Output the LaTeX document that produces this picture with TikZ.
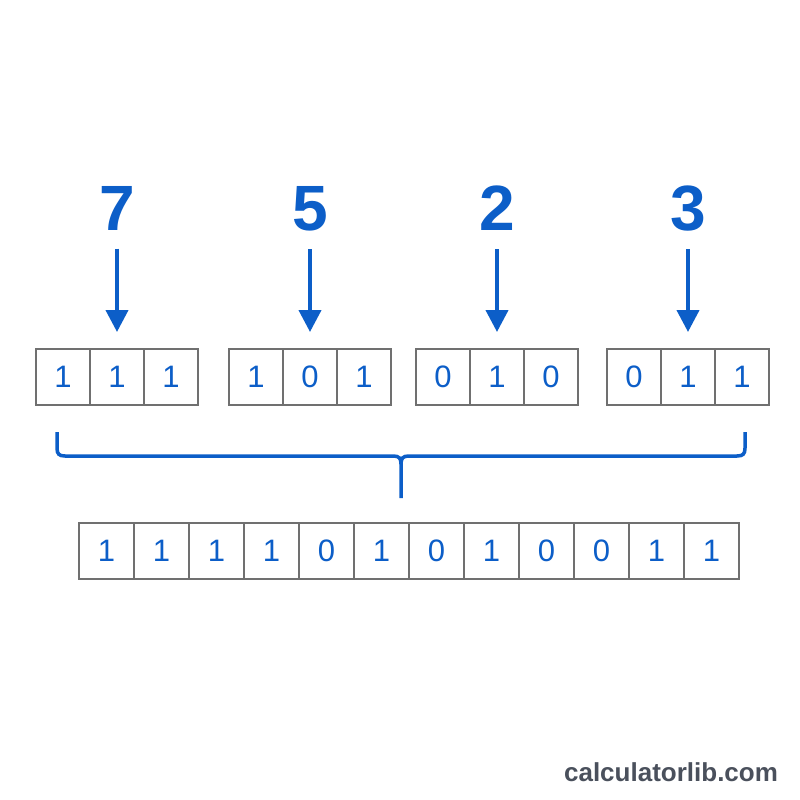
\documentclass[tikz,border=0pt]{standalone}
\usepackage{fontspec}
\setmainfont{Liberation Sans}
\usetikzlibrary{arrows.meta}
\definecolor{bitblue}{RGB}{12,94,200}
\definecolor{boxgray}{RGB}{112,112,112}
\definecolor{markgray}{RGB}{74,80,92}

\begin{document}
\begin{tikzpicture}[x=1pt,y=-1pt,
  cell/.style={draw=boxgray,line width=2pt,fill=white,minimum width=54pt,minimum height=56pt,inner sep=0pt,outer sep=0pt,text=bitblue,font=\fontsize{31}{31}\selectfont},
  num/.style={inner sep=0pt,text=bitblue,font=\fontsize{64}{64}\selectfont\bfseries},
  arr/.style={-{Triangle[length=22pt,width=22pt]},line width=4pt,draw=bitblue,shorten <=18pt,shorten >=17pt},
  brace/.style={draw=bitblue,line width=3.5pt}]
\useasboundingbox[fill=white] (0,0) rectangle (800,800);

% the four numbers
\node[num] (n7) at (117,208.5) {7};
\node[num] (n5) at (310,208.5) {5};
\node[num] (n2) at (497,208.5) {2};
\node[num] (n3) at (688,208.5) {3};

% three bits for each number
\foreach \g/\x/\bits in {1/36/{1,1,1},2/229/{1,0,1},3/416/{0,1,0},4/607/{0,1,1}}
  \foreach \b [count=\i] in \bits
    \node[cell] (g\g c\i) at (\x+27+54*\i-54,377) {\b};

\draw[arr] (n7.south) -- (g1c2.north);
\draw[arr] (n5.south) -- (g2c2.north);
\draw[arr] (n2.south) -- (g3c2.north);
\draw[arr] (n3.south) -- (g4c2.north);

% brace joining the groups
\coordinate (bl) at (57,432);
\coordinate (br) at (745,432);
\coordinate (bm) at (401,498);
\draw[brace] (bl) -- (57,448) .. controls (57,454) and (59,456) .. (65,456) -- (393,456)
  .. controls (399,456) and (401,458) .. (401,464) -- (bm);
\draw[brace] (br) -- (745,448) .. controls (745,454) and (743,456) .. (737,456) -- (409,456)
  .. controls (403,456) and (401,458) .. (401,464);

% the joined bit string
\foreach \b [count=\i] in {1,1,1,1,0,1,0,1,0,0,1,1}
  \node[cell,minimum width=55pt] (r\i) at (79+27.5+55*\i-55,551) {\b};

\node[text=markgray,font=\fontsize{26}{26}\selectfont\bfseries] (site) at (671,772) {calculatorlib.com};

\end{tikzpicture}
\end{document}
